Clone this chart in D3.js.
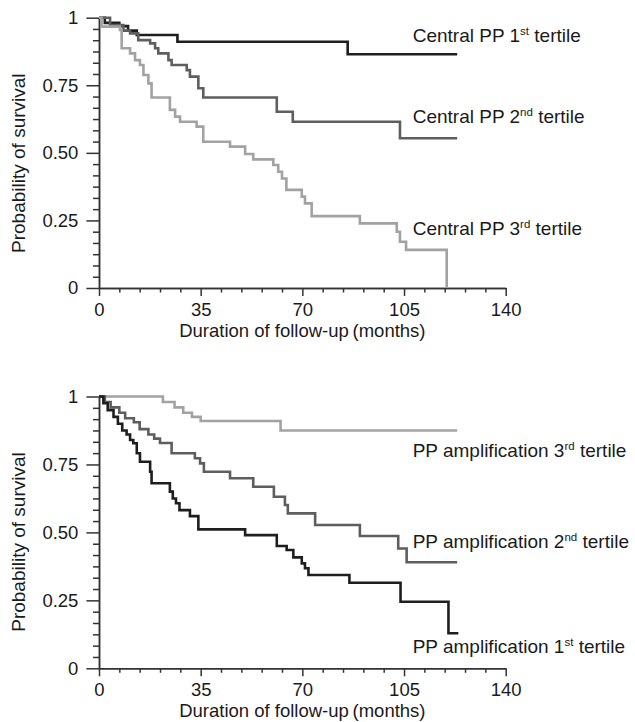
<!DOCTYPE html>
<html>
<head>
<meta charset="utf-8">
<script src="https://cdn.jsdelivr.net/npm/d3@7/dist/d3.min.js"></script>
<style>
  body { margin: 0; background: #fff; }
  text { font-family: "Liberation Sans", Arial, Helvetica, sans-serif; fill: #1a1a1a; }
</style>
</head>
<body>
<div class="container"></div>
<script>
var width = 635;
var height = 722;

// axis ticks
var monthTicks = [0, 35, 70, 105, 140];
var survTicks = [0, 0.25, 0.5, 0.75, 1];
var survTickLabels = ["0", "0.25", "0.50", "0.75", "1"];

// top panel: central PP tertiles (time in months, survival after the step)
var central1Time = [0, 2, 7, 10, 13, 27, 85.6, 123.3];
var central1Surv = [1, 0.981, 0.969, 0.952, 0.936, 0.911, 0.865, 0.865];

var central2Time = [0, 3.8, 8.4, 10.7, 13.5, 17.6, 19.3, 20.4, 23.9, 25, 30.2, 31.3, 34.2, 35.9, 61.2, 66.7, 103.6, 123.3];
var central2Surv = [1, 0.973, 0.952, 0.942, 0.917, 0.905, 0.887, 0.868, 0.843, 0.825, 0.806, 0.782, 0.739, 0.705, 0.652, 0.615, 0.554, 0.554];

var central3Time = [0, 0.9, 7.2, 7.8, 10.7, 12.4, 14.1, 15.3, 17, 18.1, 24.4, 26.2, 27.9, 33.6, 35.9, 45.1, 50.3, 53.1, 60, 61.7, 63, 64.5, 69.8, 70.9, 73.2, 89.8, 102.5, 103.6, 105.7, 119.7];
var central3Surv = [1, 0.967, 0.955, 0.887, 0.868, 0.843, 0.825, 0.788, 0.757, 0.705, 0.659, 0.634, 0.615, 0.597, 0.541, 0.523, 0.496, 0.476, 0.455, 0.43, 0.405, 0.363, 0.338, 0.313, 0.266, 0.239, 0.208, 0.171, 0.141, 0];

// bottom panel: PP amplification tertiles
var amp1Time = [0, 1.5, 3, 5, 6.5, 8, 9.5, 10.7, 11.8, 13, 14.1, 17.6, 18.1, 24.4, 25.4, 26.5, 27.7, 31.3, 34.2, 50.3, 61.2, 64.6, 66.9, 69.8, 70.9, 72.1, 86.2, 103.8, 120.3, 123.7];
var amp1Surv = [1, 0.975, 0.95, 0.925, 0.9, 0.875, 0.86, 0.84, 0.828, 0.791, 0.76, 0.723, 0.681, 0.65, 0.625, 0.607, 0.582, 0.56, 0.511, 0.49, 0.45, 0.435, 0.408, 0.386, 0.368, 0.343, 0.315, 0.245, 0.129, 0.129];

var amp2Time = [0, 2, 4, 7, 9, 12, 14, 17, 19, 21, 25, 33, 34.8, 36.1, 45.1, 53.1, 60.2, 64, 65, 74.4, 89.8, 103, 105.9, 123.3];
var amp2Surv = [1, 0.98, 0.96, 0.94, 0.92, 0.905, 0.88, 0.86, 0.845, 0.829, 0.791, 0.773, 0.754, 0.723, 0.699, 0.668, 0.631, 0.601, 0.57, 0.527, 0.487, 0.441, 0.39, 0.39];

var amp3Time = [0, 22, 26, 29, 32, 35, 62.5, 123.3];
var amp3Surv = [1, 0.98, 0.96, 0.94, 0.925, 0.91, 0.875, 0.875];

var colors = { dark: "#1e1e1e", mid: "#5e5e5e", light: "#a2a2a2" };

var svg = d3.select(".container").append("svg")
  .attr("width", width)
  .attr("height", height);

var xScale = d3.scaleLinear().domain([0, 140]).range([99, 505.7]);

var panels = [
  {
    top: 17.7, bottom: 288,
    series: [
      { time: central1Time, surv: central1Surv, color: colors.dark, label: ["Central PP 1", "st", " tertile"], labelY: 41.7 },
      { time: central2Time, surv: central2Surv, color: colors.mid, label: ["Central PP 2", "nd", " tertile"], labelY: 123.3 },
      { time: central3Time, surv: central3Surv, color: colors.light, label: ["Central PP 3", "rd", " tertile"], labelY: 235 }
    ]
  },
  {
    top: 396.5, bottom: 668.3,
    series: [
      { time: amp3Time, surv: amp3Surv, color: colors.light, label: ["PP amplification 3", "rd", " tertile"], labelY: 456.7 },
      { time: amp2Time, surv: amp2Surv, color: colors.mid, label: ["PP amplification 2", "nd", " tertile"], labelY: 548.3 },
      { time: amp1Time, surv: amp1Surv, color: colors.dark, label: ["PP amplification 1", "st", " tertile"], labelY: 653.3 }
    ]
  }
];

panels.forEach(function (panel) {
  var yScale = d3.scaleLinear().domain([0, 1]).range([panel.bottom, panel.top]);
  renderAxes(yScale, panel);
  renderCurves(yScale, panel.series);
  renderLabels(panel.series);
});

function renderAxes(yScale, panel) {
  var g = svg.append("g");

  // minor ticks: every 7 months on x, every 1/24 on y
  var minorX = d3.range(0, 141, 7).filter(function (d) { return monthTicks.indexOf(d) < 0; });
  var minorY = d3.range(1, 24).filter(function (i) { return i % 6 !== 0; }).map(function (i) { return i / 24; });

  g.append("g")
    .attr("transform", "translate(0," + panel.bottom + ")")
    .call(d3.axisBottom(xScale).tickValues(minorX).tickSize(4.5).tickSizeOuter(0).tickFormat(""));
  g.append("g")
    .attr("transform", "translate(" + xScale(0) + ",0)")
    .call(d3.axisLeft(yScale).tickValues(minorY).tickSize(6).tickSizeOuter(0).tickFormat(""));

  g.append("g")
    .attr("transform", "translate(0," + panel.bottom + ")")
    .call(d3.axisBottom(xScale).tickValues(monthTicks).tickSize(8).tickSizeOuter(0).tickPadding(7));
  g.append("g")
    .attr("transform", "translate(" + xScale(0) + ",0)")
    .call(d3.axisLeft(yScale).tickValues(survTicks).tickSize(12.6).tickSizeOuter(0).tickPadding(8)
      .tickFormat(function (d, i) { return survTickLabels[i]; }));

  g.selectAll("path.domain, line").style("stroke", "#333").style("stroke-width", 1.5);
  g.selectAll(".tick text")
    .style("font-size", "18.5px")
    .style("font-family", "'Liberation Sans', Arial, sans-serif")
    .style("fill", "#1a1a1a");

  svg.append("text")
    .attr("x", (xScale(0) + xScale(140)) / 2)
    .attr("y", panel.bottom + 49)
    .style("text-anchor", "middle")
    .style("font-size", "18.5px")
    .text("Duration of follow-up\u2009(months)");

  svg.append("text")
    .attr("transform", "translate(18," + (panel.top + 145.5) + ") rotate(-90)")
    .attr("dy", "0.35em")
    .style("text-anchor", "middle")
    .style("font-size", "19px")
    .text("Probability of survival");
}

function renderCurves(yScale, series) {
  var line = d3.line()
    .x(function (d) { return xScale(d[0]); })
    .y(function (d) { return yScale(d[1]); })
    .curve(d3.curveStepAfter);

  series.forEach(function (s) {
    var pts = s.time.map(function (t, i) { return [t, s.surv[i]]; });
    svg.append("path")
      .attr("d", line(pts))
      .style("fill", "none")
      .style("stroke", s.color)
      .style("stroke-width", 2.6);
  });
}

function renderLabels(series) {
  series.forEach(function (s) {
    var t = svg.append("text")
      .attr("x", 412.7)
      .attr("y", s.labelY)
      .style("font-size", "19px");
    t.append("tspan").text(s.label[0]);
    t.append("tspan").attr("dy", -7).style("font-size", "11.5px").text(s.label[1]);
    t.append("tspan").attr("dy", 7).text(s.label[2]);
  });
}
</script>
</body>
</html>
